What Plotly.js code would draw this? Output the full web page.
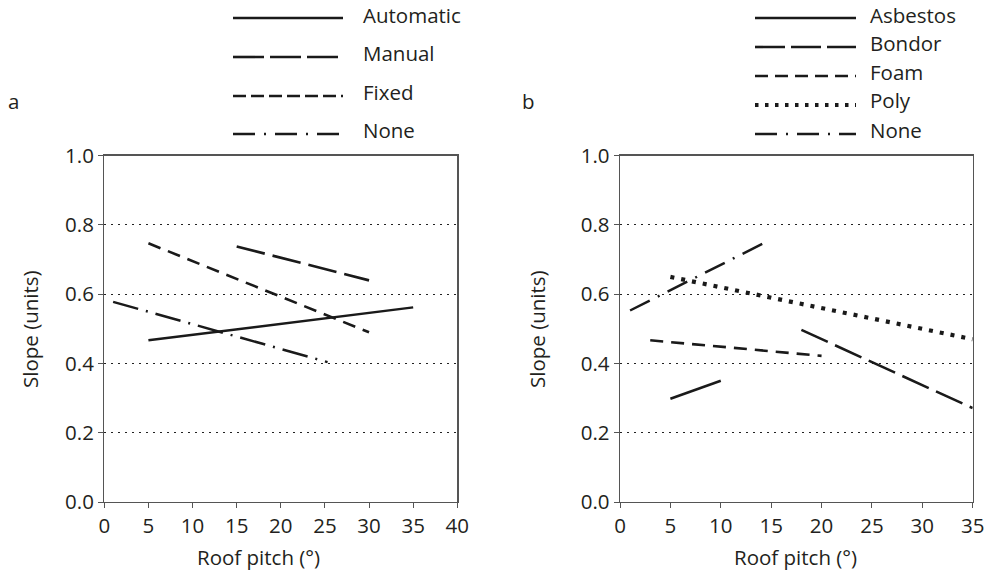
<!DOCTYPE html>
<html>
<head>
<meta charset="utf-8">
<script src="https://cdn.plot.ly/plotly-3.0.1.min.js"></script>
<style>html,body{margin:0;padding:0;background:#fff;}#chart{width:990px;height:573px;}</style>
</head>
<body>
<div id="chart"></div>
<script>
// ---- Data ----
// Panel a
const autoX = [5, 35],   autoY = [0.467, 0.562];
const manualX = [15, 30], manualY = [0.738, 0.640];
const fixedX = [5, 30],  fixedY = [0.747, 0.490];
const noneAX = [1, 25.3],  noneAY = [0.578, 0.404];
// Panel b
const asbX = [5, 10],    asbY = [0.298, 0.350];
const bondX = [18, 35],  bondY = [0.497, 0.271];
const foamX = [3, 20],   foamY = [0.467, 0.422];
const polyX = [5, 35],   polyY = [0.650, 0.470];
const noneBX = [1, 14.5], noneBY = [0.553, 0.751];

const legendA = ['Automatic', 'Manual', 'Fixed', 'None'];
const legendB = ['Asbestos', 'Bondor', 'Foam', 'Poly', 'None'];
const yTicks = [0, 0.2, 0.4, 0.6, 0.8, 1.0];
const xTicksA = [0, 5, 10, 15, 20, 25, 30, 35, 40];
const xTicksB = [0, 5, 10, 15, 20, 25, 30, 35];

// ---- Styles ----
const W = 990, H = 573;
const FONT = '"Open Sans", "Noto Sans", sans-serif';
const FS = 20.5;
const TXT = '#231f20';
const INK = '#1a1a1a';
const FRAME = '#555555';
const dashSolid = 'solid';
const dashLong = '29px,8px';
const dashShort = '13px,8px';
const dashDotA = '26px,8px,2px,8px';
const dashDotB = '22px,9px,2px,9px';
const dashPoly = '4px,7px';

const px = x => x / W;
const py = y => (H - y) / H;

function line(x, y, dash, w, xa, ya) {
  return {x: x, y: y, xaxis: xa, yaxis: ya, mode: 'lines', type: 'scatter',
    line: {color: INK, width: w, dash: dash}, showlegend: false, hoverinfo: 'skip'};
}

const data = [
  line(autoX, autoY, dashSolid, 2.5, 'x', 'y'),
  line(manualX, manualY, dashLong, 2.6, 'x', 'y'),
  line(fixedX, fixedY, dashShort, 2.6, 'x', 'y'),
  line(noneAX, noneAY, dashDotA, 2.5, 'x', 'y'),
  line(asbX, asbY, dashSolid, 2.5, 'x2', 'y2'),
  line(bondX, bondY, dashLong, 2.6, 'x2', 'y2'),
  line(foamX, foamY, dashShort, 2.6, 'x2', 'y2'),
  line(polyX, polyY, dashPoly, 4.2, 'x2', 'y2'),
  line(noneBX, noneBY, dashDotB, 2.5, 'x2', 'y2')
];

function xax(domain, range, ticks) {
  return {domain: domain, range: range, tickmode: 'array', tickvals: ticks,
    ticktext: ticks.map(String), showgrid: false, zeroline: false,
    showline: true, mirror: true, linecolor: FRAME, linewidth: 1.3,
    ticks: 'outside', ticklen: 5, tickwidth: 1, tickcolor: FRAME,
    tickfont: {family: FONT, size: FS, color: TXT}, fixedrange: true};
}
function yax(domain, anchor) {
  return {domain: domain, range: [0, 1], anchor: anchor, tickmode: 'array', tickvals: yTicks,
    ticktext: yTicks.map(v => v.toFixed(1)), showgrid: true, gridcolor: '#222',
    gridwidth: 1, griddash: '2px,5px', zeroline: false,
    showline: true, mirror: true, linecolor: FRAME, linewidth: 1.3,
    ticks: 'outside', ticklen: 5, tickwidth: 1, tickcolor: FRAME,
    tickfont: {family: FONT, size: FS, color: TXT}, fixedrange: true};
}

const yDom = [py(502), py(155.7)];
const layout = {
  width: W, height: H, margin: {l: 0, r: 0, t: 0, b: 0},
  paper_bgcolor: '#fff', plot_bgcolor: '#fff', showlegend: false,
  font: {family: FONT, color: TXT},
  xaxis: Object.assign(xax([px(104.3), px(457.3)], [0, 40], xTicksA), {anchor: 'y'}),
  yaxis: yax(yDom, 'x'),
  xaxis2: Object.assign(xax([px(620), px(972.7)], [0, 35], xTicksB), {anchor: 'y2'}),
  yaxis2: yax(yDom, 'x2'),
  shapes: [],
  annotations: []
};

// axis titles and panel labels
function ann(text, x, y, opts) {
  layout.annotations.push(Object.assign({text: text, xref: 'paper', yref: 'paper',
    x: px(x), y: py(y), showarrow: false, xanchor: 'center', yanchor: 'middle',
    font: {family: FONT, size: FS, color: TXT}}, opts || {}));
}
ann('Roof pitch (°)', 258, 557);
ann('Roof pitch (°)', 795, 557);
ann('Slope (units)', 30, 329, {textangle: -90});
ann('Slope (units)', 537, 329, {textangle: -90});
ann('a', 13, 101);
ann('b', 528, 101);

// legends
const dashesA = [dashSolid, '31px,6px', '13px,5px', '22px,9px,2px,9px'];
const widthsA = [2.5, 2.6, 2.6, 2.5];
const lineYA = [18, 57, 96, 134];
const textYA = [15, 53, 92, 130];
legendA.forEach((name, i) => {
  layout.shapes.push({type: 'line', xref: 'paper', yref: 'paper',
    x0: px(233), x1: px(343), y0: py(lineYA[i]), y1: py(lineYA[i]),
    line: {color: INK, width: widthsA[i], dash: dashesA[i]}});
  ann(name, 361, textYA[i], {xanchor: 'left'});
});
const dashesB = [dashSolid, '30px,6px', '13px,7px', '3.5px,6.5px', '22px,9px,2px,9px'];
const widthsB = [2.5, 2.6, 2.6, 3.8, 2.5];
const lineYB = [18, 47, 76, 105, 134];
const textYB = [15, 43, 72, 100, 130];
legendB.forEach((name, i) => {
  layout.shapes.push({type: 'line', xref: 'paper', yref: 'paper',
    x0: px(755), x1: px(856), y0: py(lineYB[i]), y1: py(lineYB[i]),
    line: {color: INK, width: widthsB[i], dash: dashesB[i]}});
  ann(name, 868, textYB[i], {xanchor: 'left'});
});

Plotly.newPlot('chart', data, layout, {staticPlot: true, displayModeBar: false});
</script>
</body>
</html>
